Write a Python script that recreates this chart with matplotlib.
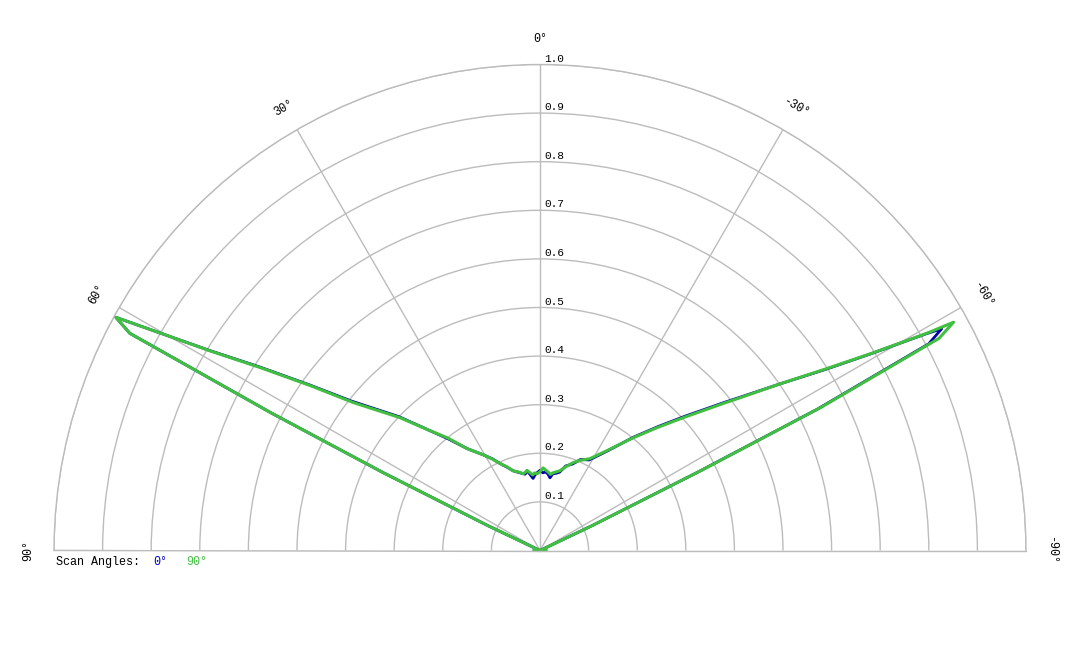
import numpy as np
import matplotlib
matplotlib.use("Agg")
import matplotlib.pyplot as plt

# scan angle (deg) and normalised intensity for the two scans
theta_deg = [-90, -66, -64.5, -63.6, -63.0, -62.0, -61.1, -60.7, -60.2, -59.3,
             -57.6, -55.2, -52.6, -51.2, -47.1, -43.6, -39.5, -33.8, -28.5, -24,
             -20.6, -17, -14, -11.5, -9.5, -7.8, -6, -4, -2.1, 0,
             2.2, 4, 5.5, 7.5, 9.2, 11, 12.5, 15, 18.6, 21.5,
             24.7, 27.5, 30.7, 35.6, 39.4, 42.5, 46.5, 51.6, 54.3, 56.8,
             58.8, 60.2, 61.2, 62.1, 62.9, 63.6, 64.5, 66, 90]

r_scan0 = [0.012, 0, 0.12, 0.36, 0.64, 0.906, 0.944, 0.911, 0.866, 0.794,
           0.695, 0.600, 0.520, 0.486, 0.405, 0.352, 0.302, 0.245, 0.212, 0.205,
           0.190, 0.182, 0.166, 0.162, 0.160, 0.151, 0.158, 0.162, 0.160, 0.165,
           0.160, 0.155, 0.149, 0.158, 0.166, 0.160, 0.162, 0.166, 0.173, 0.184,
           0.197, 0.213, 0.229, 0.258, 0.297, 0.334, 0.400, 0.495, 0.584, 0.690,
           0.794, 0.900, 0.996, 0.955, 0.62, 0.36, 0.12, 0, 0.012]

r_scan90 = [0.012, 0, 0.12, 0.37, 0.65, 0.930, 0.972, 0.915, 0.868, 0.796,
            0.698, 0.600, 0.517, 0.482, 0.401, 0.349, 0.300, 0.247, 0.215, 0.203,
            0.193, 0.180, 0.169, 0.165, 0.162, 0.158, 0.162, 0.166, 0.170, 0.162,
            0.158, 0.160, 0.156, 0.162, 0.167, 0.163, 0.162, 0.167, 0.173, 0.185,
            0.197, 0.212, 0.229, 0.258, 0.300, 0.334, 0.397, 0.490, 0.581, 0.687,
            0.792, 0.900, 0.996, 0.955, 0.62, 0.36, 0.12, 0, 0.012]

ring_labels = [0.1, 0.2, 0.3, 0.4, 0.5, 0.6, 0.7, 0.8, 0.9, 1.0]
angle_ticks = [90, 60, 30, 0, -30, -60, -90]

BLUE = "#0000a8"
GREEN = "#40bf40"
GRID = "#bcbcbc"
FONT = "Liberation Mono"

fig = plt.figure(figsize=(10.8, 6.48), dpi=100)
# polar axes keep a square box; the half disk sits in its middle half
ax = fig.add_axes([0.05, -145.5 / 648, 0.9, 972 / 648], projection="polar")
ax.set_theta_zero_location("N")
ax.set_thetamin(-90)
ax.set_thetamax(90)
ax.set_ylim(0, 1.0)

ax.set_rgrids(ring_labels, labels=[])
ax.set_thetagrids(angle_ticks, labels=[])
ax.grid(True, color=GRID, linewidth=1.0)
for sp in ax.spines.values():
    sp.set_color(GRID)
    sp.set_linewidth(1.0)

th = np.radians(theta_deg)
ax.plot(th, r_scan0, color=BLUE, lw=2.0, clip_on=False)
ax.plot(th, r_scan90, color=GREEN, lw=2.2, clip_on=False)

for r in ring_labels:
    ax.annotate(f"{r:.1f}", xy=(0, r), xytext=(3, 4.2), textcoords="offset points",
                ha="left", va="center", family=FONT, fontsize=8)

for a in angle_ticks:
    ax.text(np.radians(a), 1.052, f"{a}°", rotation=a, rotation_mode="anchor",
            ha="center", va="center", family=FONT, fontsize=8.5, clip_on=False)

fig.text(0.052, 0.133, "Scan Angles:", family=FONT, fontsize=8.5, va="center")
fig.text(0.1417, 0.133, "0°", family=FONT, fontsize=8.5, va="center", color="#0000cc")
fig.text(0.1722, 0.133, "90°", family=FONT, fontsize=8.5, va="center", color=GREEN)

fig.savefig("out.png", dpi=100)
